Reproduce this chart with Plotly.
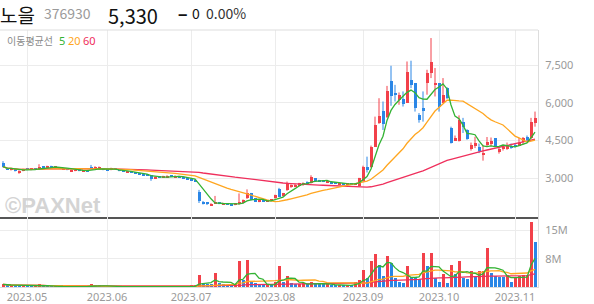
import pandas as pd
import plotly.graph_objects as go

# ---------------- data ----------------
holidays = ["2023-05-01", "2023-05-05", "2023-05-29", "2023-06-06", "2023-08-15",
            "2023-09-28", "2023-09-29", "2023-10-02", "2023-10-03", "2023-10-09"]
dates = [d for d in pd.bdate_range("2023-04-21", "2023-11-08")
         if d.strftime("%Y-%m-%d") not in holidays]

opens = [3620, 3420, 3330, 3360, 3220, 3300, 3380, 3330, 3380, 3350,
         3460, 3420, 3480, 3430, 3440, 3360, 3390, 3280, 3290, 3330,
         3280, 3320, 3450, 3380, 3400, 3380, 3340, 3330, 3380, 3330,
         3300, 3240, 3270, 3230, 3200, 3180, 3150, 3120, 2990, 3080,
         3030, 3050, 3100, 3050, 3090, 3060, 3020, 2990, 2950, 2470,
         2070, 2040, 1920, 1990, 2040, 1970, 2000, 1970, 1940, 1990,
         2000, 2200, 2400, 2200, 2060, 2110, 2080, 2100, 2200, 2560,
         2300, 2530, 2640, 2660, 2700, 2720, 2850, 2800, 3000, 2930,
         2900, 2820, 2870, 2820, 2760, 2800, 2760, 2800, 2740, 2690,
         2900, 3440, 3440, 4260, 5210, 5690, 5430, 6870, 6380, 6110,
         6140, 6010, 6910, 6780, 5520, 5790, 6800, 7180, 6710, 6780,
         6010, 6580, 5000, 4500, 4500, 5230, 4900, 4150, 4300, 4250,
         3930, 4330, 4360, 4590, 4080, 4150, 4180, 4300, 4340, 4300,
         4460, 4650, 4590, 5200]
highs = [3680, 3440, 3400, 3380, 3320, 3380, 3400, 3390, 3400, 3560,
         3480, 3500, 3500, 3490, 3450, 3420, 3400, 3350, 3340, 3340,
         3330, 3330, 3530, 3480, 3470, 3400, 3350, 3420, 3390, 3340,
         3310, 3300, 3280, 3240, 3220, 3190, 3160, 3130, 3080, 3090,
         3100, 3120, 3110, 3120, 3100, 3070, 3030, 3000, 2960, 2540,
         2100, 2060, 2010, 2300, 2060, 2030, 2010, 1980, 2000, 2400,
         2160, 2560, 2420, 2210, 2120, 2120, 2130, 2150, 2350, 2620,
         2420, 2870, 2760, 2780, 2820, 2840, 2880, 3120, 3010, 2940,
         2910, 2890, 2880, 2830, 2810, 2810, 2800, 2810, 2800, 3020,
         3500, 3860, 4300, 5450, 6180, 6050, 6670, 7470, 6710, 6410,
         6450, 7640, 7670, 6780, 5590, 6450, 7310, 8570, 7380, 6780,
         6980, 6620, 5050, 4700, 5500, 5400, 4950, 4420, 4650, 4380,
         4330, 4640, 4620, 4600, 4230, 4330, 4420, 4380, 4380, 4600,
         4640, 4700, 5400, 5650]
lows = [3440, 3330, 3310, 3270, 3180, 3280, 3320, 3320, 3330, 3340,
        3400, 3410, 3420, 3420, 3370, 3350, 3320, 3270, 3280, 3280,
        3270, 3270, 3370, 3370, 3390, 3320, 3300, 3320, 3330, 3280,
        3250, 3230, 3210, 3180, 3160, 3120, 3090, 2900, 2970, 3010,
        3020, 3040, 3050, 3040, 3030, 3000, 2960, 2920, 2870, 2020,
        1960, 1940, 1900, 1980, 1970, 1960, 1940, 1920, 1930, 1950,
        1990, 2180, 2120, 2060, 2050, 2070, 2070, 2090, 2190, 2260,
        2280, 2500, 2620, 2640, 2680, 2700, 2790, 2790, 2890, 2860,
        2850, 2810, 2790, 2770, 2750, 2750, 2750, 2750, 2730, 2670,
        2850, 3230, 3420, 4250, 5160, 4920, 5390, 5880, 6050, 5920,
        5850, 5990, 6580, 5650, 5210, 5250, 6320, 6980, 6250, 5650,
        5990, 6150, 4380, 4480, 4460, 4800, 4530, 4100, 4200, 4000,
        3700, 4250, 4280, 4250, 3980, 4100, 4130, 4170, 4230, 4280,
        4340, 4470, 4560, 5050]
closes = [3460, 3350, 3380, 3280, 3300, 3360, 3340, 3370, 3350, 3430,
          3420, 3480, 3440, 3470, 3380, 3400, 3330, 3330, 3320, 3290,
          3320, 3280, 3380, 3460, 3450, 3330, 3310, 3400, 3340, 3290,
          3260, 3280, 3220, 3190, 3170, 3130, 3100, 2960, 3060, 3020,
          3090, 3100, 3060, 3110, 3040, 3010, 2970, 2930, 2880, 2110,
          1990, 1960, 1990, 2060, 1980, 2010, 1950, 1930, 1990, 2050,
          2140, 2400, 2140, 2070, 2110, 2080, 2120, 2140, 2330, 2270,
          2400, 2800, 2720, 2750, 2800, 2820, 2800, 3060, 2900, 2870,
          2860, 2880, 2800, 2780, 2800, 2760, 2790, 2760, 2790, 3000,
          3460, 3330, 4260, 5120, 5480, 5160, 6470, 6250, 6310, 6300,
          5960, 7240, 6710, 5790, 5320, 5680, 7200, 7620, 6800, 5830,
          6300, 6200, 4420, 4600, 5300, 5030, 4580, 4320, 4420, 4100,
          4000, 4450, 4470, 4280, 4150, 4260, 4330, 4230, 4260, 4420,
          4600, 4520, 5250, 5380]
volume_m = [0.7, 0.4, 0.5, 0.45, 0.3, 0.4, 0.15, 0.1, 0.5, 0.6,
            0.3, 0.2, 0.1, 0.15, 0.1, 0.1, 0.1, 0.1, 0.1, 0.12,
            0.1, 0.1, 0.6, 0.5, 0.2, 0.1, 0.1, 0.1, 0.1, 0.1,
            0.08, 0.1, 0.08, 0.1, 0.08, 0.08, 0.08, 0.1, 0.08, 0.08,
            0.1, 0.08, 0.08, 0.08, 0.1, 0.08, 0.08, 0.2, 0.3, 3.1,
            1.1, 0.8, 0.6, 3.75, 0.9, 0.6, 0.5, 0.45, 0.6, 6.9,
            1.8, 7.1, 1.3, 0.9, 0.6, 0.4, 0.5, 0.4, 1.3, 5.5,
            1.3, 2.9, 0.9, 0.7, 0.8, 0.9, 0.6, 1.3, 1.1, 0.7,
            0.6, 0.8, 0.5, 0.4, 0.5, 0.4, 0.5, 0.4, 1.3, 1.8,
            4.5, 2.2, 6.9, 8.75, 5.8, 2.9, 8.2, 6.4, 2.4, 1.3,
            0.9, 5.5, 2.7, 2.2, 2.0, 8.9, 5.4, 8.9, 2.2, 1.3,
            3.3, 1.1, 5.8, 3.3, 6.9, 2.4, 2.05, 4.2, 2.7, 4.2,
            4.25, 10.4, 3.75, 2.8, 2.7, 2.6, 3.1, 1.3, 2.7, 2.75,
            3.1, 3.2, 17.1, 11.8]

ma_windows = [5, 20, 60]
title_name = "노을"
title_code = "376930"
title_price = "5,330"
title_sign = "−"
title_change = "0"
title_pct = "0.00%"
ma_label = "이동평균선"
watermark = "©PAXNet"

# ---------------- styles ----------------
RED = "#f2414a"
BLUE = "#2a86e6"
MA_COLORS = ["#33b333", "#ffa620", "#ef2f5c"]
GRID = "#ececec"
TICKFONT = dict(family="Noto Sans", size=11, color="#9a9a9a")

n = len(closes)
idx = list(range(n))
close_s = pd.Series(closes, dtype=float)
vol_s = pd.Series(volume_m, dtype=float)

up = [c >= o for o, c in zip(opens, closes)]
cand_col = [RED if u else BLUE for u in up]
body_base = [min(o, c) for o, c in zip(opens, closes)]
body_h = [max(abs(c - o), 30) for o, c in zip(opens, closes)]
vol_col = [RED if (i == 0 or volume_m[i] > volume_m[i - 1]) else BLUE for i in idx]

# first trading day of each month
month_ticks, month_text = [], []
for i, d in enumerate(dates):
    if i > 0 and d.month != dates[i - 1].month:
        month_ticks.append(i)
        month_text.append(d.strftime("%Y.%m"))

fig = go.Figure()

# wicks
for colr, flag in ((RED, True), (BLUE, False)):
    wx, wy = [], []
    for i in idx:
        if up[i] == flag:
            wx += [i, i, None]
            wy += [lows[i], highs[i], None]
    fig.add_trace(go.Scatter(x=wx, y=wy, mode="lines", line=dict(color=colr, width=1),
                             xaxis="x", yaxis="y", hoverinfo="skip"))
# bodies
fig.add_trace(go.Bar(x=idx, y=body_h, base=body_base, width=0.75,
                     marker=dict(color=cand_col, line=dict(width=0)),
                     xaxis="x", yaxis="y"))
# price moving averages
for w, c in zip(ma_windows[::-1], MA_COLORS[::-1]):
    ma = close_s.rolling(w, min_periods=1).mean()
    fig.add_trace(go.Scatter(x=idx, y=ma, mode="lines", line=dict(color=c, width=1.3),
                             xaxis="x", yaxis="y"))

# volume
fig.add_trace(go.Bar(x=idx, y=[v * 1e6 for v in volume_m], width=0.75,
                     marker=dict(color=vol_col, line=dict(width=0)),
                     xaxis="x2", yaxis="y2"))
for w, c in zip(ma_windows[::-1], MA_COLORS[::-1]):
    ma = vol_s.rolling(w, min_periods=1).mean() * 1e6
    fig.add_trace(go.Scatter(x=idx, y=ma, mode="lines", line=dict(color=c, width=1.3),
                             xaxis="x2", yaxis="y2"))

# ---------------- layout ----------------
W, H = 594, 304
ML, MR, MT, MB = 0, 56, 30, 17
PW, PH = W - ML - MR, H - MT - MB
sep = (287 - 217.3) / PH


def px_x(p):
    return (p - ML) / PW


def px_y(p):
    return (H - MB - p) / PH


fig.update_layout(
    width=W, height=H, margin=dict(l=ML, r=MR, t=MT, b=MB, autoexpand=False),
    paper_bgcolor="white", plot_bgcolor="white", showlegend=False,
    barmode="overlay", bargap=0,
    xaxis=dict(domain=[0, 1], anchor="y", range=[-0.75, n - 0.25],
               tickvals=month_ticks, showticklabels=False, showgrid=True,
               gridcolor=GRID, gridwidth=1, zeroline=False,
               showline=True, linecolor="#555555", linewidth=1.5, ticks=""),
    yaxis=dict(domain=[sep, 1], anchor="x", side="right", range=[1451, 8890],
               tickvals=[3000, 4500, 6000, 7500], tickformat=",d",
               showgrid=True, gridcolor=GRID, zeroline=False,
               showline=True, linecolor="#dddddd", linewidth=1,
               tickfont=TICKFONT, ticks="", ticklabelstandoff=4),
    xaxis2=dict(domain=[0, 1], anchor="y2", matches="x", range=[-0.75, n - 0.25],
                tickvals=month_ticks, ticktext=month_text, showgrid=True,
                gridcolor=GRID, zeroline=False, showline=True,
                linecolor="#dddddd", linewidth=1, tickfont=TICKFONT, ticks="",
                automargin=False),
    yaxis2=dict(domain=[0, sep], anchor="x2", side="right", range=[0, 18.5e6],
                tickvals=[7.5e6, 15e6], ticktext=["8M", "15M"],
                showgrid=True, gridcolor=GRID, zeroline=False,
                showline=True, linecolor="#dddddd", linewidth=1,
                tickfont=TICKFONT, ticks="", ticklabelstandoff=4),
    shapes=[dict(type="line", xref="paper", yref="paper", x0=0, x1=1, y0=1, y1=1,
                 line=dict(color="#dddddd", width=1))],
)

CJK = "Noto Sans CJK KR"
ann = [
    # (text, left px, top px, size, color, family)
    (title_name, -1, 0, 19, "#111111", CJK),
    (title_code, 43, 2, 14, "#9a9a9a", CJK),
    (title_price, 107, 0, 20, "#111111", CJK),
    ("<b>" + title_sign + "</b>", 177, 1, 16, "#111111", CJK),
    (title_change, 191, 2, 14, "#111111", CJK),
    (title_pct, 205, 2, 14, "#333333", CJK),
]
annotations = [
    dict(text=t, x=px_x(xp), y=px_y(yp), xref="paper", yref="paper",
         xanchor="left", yanchor="top", showarrow=False, borderpad=0,
         font=dict(family=f, size=s, color=c))
    for t, xp, yp, s, c, f in ann
]
mid = [
    (ma_label, 5, 41, 10, "#8a8a8a", CJK),
    ("5", 57, 41, 11, MA_COLORS[0], "Noto Sans"),
    ("20", 66, 41, 11, MA_COLORS[1], "Noto Sans"),
    ("60", 81, 41, 11, MA_COLORS[2], "Noto Sans"),
    ("<b>" + watermark + "</b>", 3, 205, 22, "#d4d4d4", "Liberation Sans"),
]
annotations += [
    dict(text=t, x=px_x(xp), y=px_y(yp), xref="paper", yref="paper",
         xanchor="left", yanchor="middle", showarrow=False,
         font=dict(family=f, size=s, color=c))
    for t, xp, yp, s, c, f in mid
]
fig.update_layout(annotations=annotations)

fig.write_html("out.html")
